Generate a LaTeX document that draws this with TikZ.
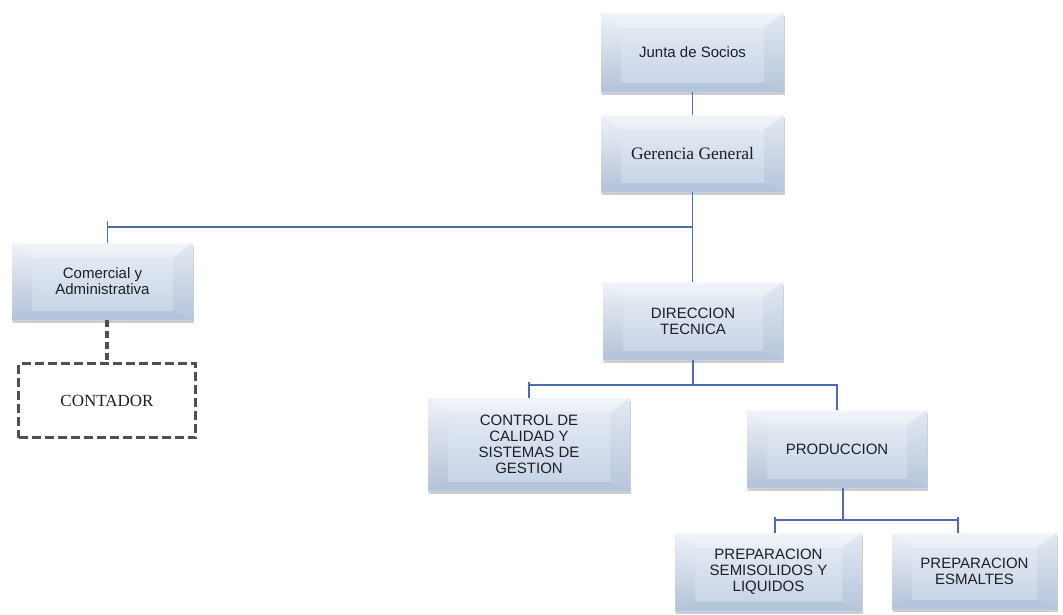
\documentclass[tikz,border=0pt]{standalone}
\usepackage{fontspec}
\setmainfont{Liberation Serif}
\setsansfont{Liberation Sans}
\usetikzlibrary{shadows,calc}

% bevelled box colours
\definecolor{faceTop}{HTML}{E8EEF6}
\definecolor{faceBot}{HTML}{C4D2E5}
\definecolor{facetTop}{HTML}{F2F5FA}
\definecolor{leftA}{HTML}{EEF2F8}
\definecolor{leftB}{HTML}{B3C2D7}
\definecolor{rightA}{HTML}{E2E9F2}
\definecolor{rightB}{HTML}{B6C5DA}
\definecolor{facetBot}{HTML}{B4C4DA}
\definecolor{linkBlue}{HTML}{4A6CB3}
\definecolor{dashGray}{HTML}{505050}
\definecolor{inkText}{HTML}{1E1E24}

\tikzset{
  bevel/.style={rectangle, inner sep=0pt, align=center, text=inkText,
    font=\sffamily\fontsize{15}{16}\selectfont,
    top color=faceTop, bottom color=faceBot,
    drop shadow={shadow xshift=0.5pt, shadow yshift=-3pt, opacity=0.4},
    path picture={
      \coordinate (pNW) at (path picture bounding box.north west);
      \coordinate (pNE) at (path picture bounding box.north east);
      \coordinate (pSW) at (path picture bounding box.south west);
      \coordinate (pSE) at (path picture bounding box.south east);
      \shade[top color=facetTop, bottom color=faceTop] (pNW) -- (pNE)
        -- ([shift={(-20pt,-15pt)}]pNE) -- ([shift={(20pt,-15pt)}]pNW) -- cycle;
      \shade[top color=leftA, bottom color=leftB] (pNW)
        -- ([shift={(20pt,-15pt)}]pNW) -- ([shift={(20pt,9pt)}]pSW) -- (pSW) -- cycle;
      \shade[top color=rightA, bottom color=rightB] (pNE)
        -- ([shift={(-20pt,-15pt)}]pNE) -- ([shift={(-20pt,9pt)}]pSE) -- (pSE) -- cycle;
      \fill[facetBot] (pSW) -- ([shift={(20pt,9pt)}]pSW)
        -- ([shift={(-20pt,9pt)}]pSE) -- (pSE) -- cycle;
    }},
  dashbox/.style={rectangle, draw=dashGray, line width=3.2pt,
    dash pattern=on 9pt off 4pt, align=center, text=inkText,
    font=\rmfamily\fontsize{17}{19}\selectfont},
  link/.style={draw=linkBlue, line width=1.4pt},
  dashlink/.style={draw=dashGray, line width=3.4pt, dash pattern=on 7pt off 4pt}
}

% \orgbox{name}{x1}{y1}{x2}{y2}{text}
\newcommand{\orgbox}[6]{%
  \node[bevel, minimum width={(#4-#2)*1pt}, minimum height={(#5-#3)*1pt}]
    (#1) at ({(#2+#4)/2},{(#3+#5)/2}) {#6};}

\begin{document}
\begin{tikzpicture}[x=1pt, y=-1pt]
  \useasboundingbox[fill=white] (0,0) rectangle (1063,614);

  % boxes
  \orgbox{junta}{601}{13}{784}{92}{Junta de Socios}
  \orgbox{gerencia}{601}{115}{784}{192}{\rmfamily\fontsize{17.5}{19}\selectfont Gerencia General}
  \orgbox{comercial}{12}{243}{193}{320}{Comercial y\\Administrativa}
  \orgbox{direccion}{603}{282}{783}{360}{DIRECCION\\TECNICA}
  \orgbox{control}{428}{398}{630}{491}{CONTROL DE\\CALIDAD Y\\SISTEMAS DE\\GESTION}
  \orgbox{produccion}{747}{410}{927}{488}{PRODUCCION}
  \orgbox{semi}{675}{533}{862}{611}{PREPARACION\\SEMISOLIDOS Y\\LIQUIDOS}
  \orgbox{esmaltes}{892}{533}{1057}{609}{PREPARACION\\ESMALTES}

  \node[dashbox, minimum width=177pt, minimum height=74pt]
    (contador) at (107,400.5) {CONTADOR};

  % connectors
  \draw[link] (junta.south) -- (gerencia.north);
  \coordinate (hubA) at (gerencia.south |- 0,227);
  \coordinate (comIn) at (comercial.north -| 107.5,0);
  \draw[link] (gerencia.south) -- (gerencia.south |- direccion.north);
  \draw[link] (hubA) -- (comIn |- hubA);
  \draw[link] (comIn) -- (comIn |- 0,221);

  \coordinate (hubB) at (direccion.south |- 0,385);
  \draw[link] (direccion.south) -- (hubB);
  \draw[link] (control.north) -- (control.north |- 0,382) ;
  \draw[link] (control.north |- hubB) -- (hubB) -| (produccion.north);

  \coordinate (prodOut) at ([xshift=6pt]produccion.south);
  \coordinate (hubC) at (prodOut |- 0,520);
  \coordinate (semiIn) at (semi.north -| 775,0);
  \coordinate (esmIn) at (esmaltes.north -| 958,0);
  \draw[link] (prodOut) -- (hubC);
  \draw[link] (semiIn |- hubC) -- (esmIn |- hubC);
  \draw[link] (semiIn) -- (semiIn |- 0,517);
  \draw[link] (esmIn) -- (esmIn |- 0,517);

  \draw[dashlink] (comercial.south -| contador.north) -- (contador.north);
\end{tikzpicture}
\end{document}
